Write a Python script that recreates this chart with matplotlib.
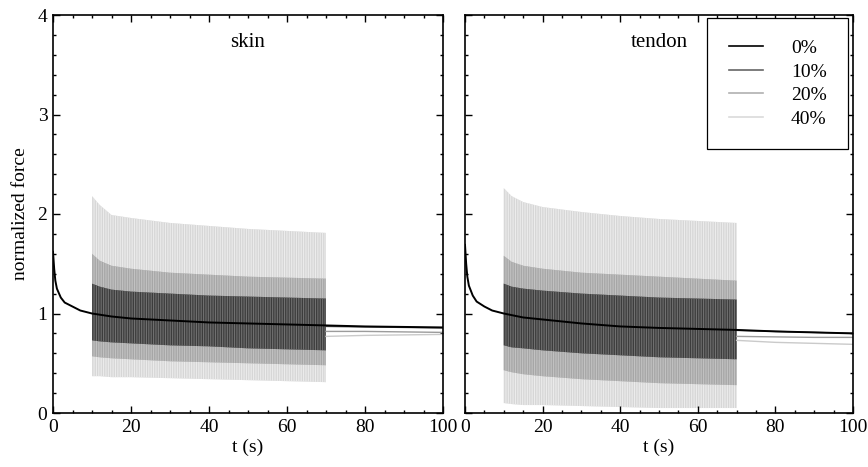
import matplotlib.pyplot as plt
from matplotlib.lines import Line2D
from matplotlib.ticker import MultipleLocator

plt.rcParams['font.family'] = ['Liberation Serif', 'DejaVu Serif']
plt.rcParams['font.size'] = 14
plt.rcParams['hatch.linewidth'] = 0.8

labels = ['0%', '10%', '20%', '40%']

# relaxation curve (0%) shared time base
t_base = [0, 0.3, 0.6, 1, 2, 3, 5, 7, 10, 15, 20, 30, 40, 50, 60, 70, 80, 90, 100]
skin_base = [1.62, 1.45, 1.33, 1.25, 1.16, 1.11, 1.07, 1.03, 1.00, 0.97, 0.95,
             0.93, 0.91, 0.90, 0.89, 0.88, 0.87, 0.865, 0.86]
tendon_base = [1.69, 1.50, 1.37, 1.28, 1.18, 1.12, 1.07, 1.03, 1.00, 0.96, 0.94,
               0.90, 0.87, 0.855, 0.845, 0.835, 0.82, 0.81, 0.80]

# oscillation envelopes, 10-70 s
t_osc = [10, 12, 15, 20, 30, 40, 50, 60, 70]
skin_hi = {
    '10%': [1.30, 1.27, 1.24, 1.22, 1.20, 1.18, 1.17, 1.16, 1.15],
    '20%': [1.60, 1.53, 1.48, 1.45, 1.41, 1.39, 1.37, 1.36, 1.35],
    '40%': [2.18, 2.09, 1.99, 1.96, 1.91, 1.88, 1.85, 1.83, 1.81],
}
skin_lo = {
    '10%': [0.73, 0.72, 0.71, 0.70, 0.68, 0.67, 0.65, 0.64, 0.63],
    '20%': [0.57, 0.56, 0.55, 0.54, 0.52, 0.51, 0.50, 0.49, 0.48],
    '40%': [0.37, 0.37, 0.36, 0.36, 0.35, 0.34, 0.33, 0.32, 0.31],
}
tendon_hi = {
    '10%': [1.30, 1.27, 1.25, 1.23, 1.20, 1.18, 1.16, 1.15, 1.14],
    '20%': [1.58, 1.52, 1.48, 1.45, 1.41, 1.39, 1.37, 1.35, 1.33],
    '40%': [2.26, 2.18, 2.12, 2.07, 2.02, 1.98, 1.95, 1.93, 1.91],
}
tendon_lo = {
    '10%': [0.68, 0.66, 0.65, 0.63, 0.60, 0.58, 0.56, 0.55, 0.54],
    '20%': [0.43, 0.41, 0.39, 0.37, 0.34, 0.32, 0.30, 0.29, 0.28],
    '40%': [0.10, 0.09, 0.08, 0.08, 0.07, 0.06, 0.05, 0.05, 0.05],
}

# recovery after the oscillation stops
t_post = [70, 80, 90, 100]
skin_post = {
    '10%': [0.87, 0.865, 0.86, 0.855],
    '20%': [0.82, 0.82, 0.815, 0.81],
    '40%': [0.77, 0.78, 0.785, 0.79],
}
tendon_post = {
    '10%': [0.83, 0.82, 0.81, 0.80],
    '20%': [0.77, 0.765, 0.76, 0.76],
    '40%': [0.73, 0.71, 0.70, 0.69],
}

band_colors = {'10%': '#3c3c3c', '20%': '#a6a6a6', '40%': '#d6d6d6'}
stripe_colors = {'10%': '#707070', '20%': '#c2c2c2', '40%': '#ececec'}
line_colors = {'10%': '#555555', '20%': '#9c9c9c', '40%': '#cacaca'}
legend_colors = ['#000000', '#666666', '#b0b0b0', '#dadada']

fig = plt.figure(figsize=(8.68, 4.67), dpi=100)
ax1 = fig.add_axes([53 / 868, 54 / 467, 390 / 868, 398 / 467])
ax2 = fig.add_axes([465 / 868, 54 / 467, 388 / 868, 398 / 467])

panels = [
    (ax1, 'skin', skin_base, skin_hi, skin_lo, skin_post),
    (ax2, 'tendon', tendon_base, tendon_hi, tendon_lo, tendon_post),
]

for ax, name, base, hi, lo, post in panels:
    for key in ['40%', '20%', '10%']:
        ax.fill_between(t_osc, lo[key], hi[key], facecolor=band_colors[key],
                        edgecolor=stripe_colors[key], hatch='|||||||', linewidth=0, zorder=1)
    for key in ['40%', '20%', '10%']:
        ax.plot(t_post, post[key], color=line_colors[key], lw=1.0, zorder=2)
    ax.plot(t_base, base, color='black', lw=1.4, zorder=3)

    ax.set_xlim(0, 100)
    ax.set_ylim(0, 4)
    ax.xaxis.set_major_locator(MultipleLocator(20))
    ax.xaxis.set_minor_locator(MultipleLocator(5))
    ax.yaxis.set_major_locator(MultipleLocator(1))
    ax.yaxis.set_minor_locator(MultipleLocator(0.2))
    ax.tick_params(which='both', direction='in', top=True, right=True, width=1.0)
    ax.tick_params(which='major', length=5, labelsize=14, pad=4)
    ax.tick_params(which='minor', length=2.5)
    for s in ax.spines.values():
        s.set_linewidth(1.2)
    ax.set_xlabel('t (s)', fontsize=14, labelpad=2)
    ax.text(50, 3.72, name, ha='center', va='center', fontsize=15)

ax1.set_ylabel('normalized force', fontsize=14, labelpad=6)
ax2.tick_params(labelleft=False)

handles = [Line2D([], [], color=c, lw=1.2) for c in legend_colors]
leg = ax2.legend(handles, labels, loc='upper right', bbox_to_anchor=(0.987, 0.992),
                 borderaxespad=0, fancybox=False, framealpha=1, edgecolor='black',
                 handlelength=1.75, handletextpad=1.45, labelspacing=0.3,
                 borderpad=1.1, fontsize=14)
leg.get_frame().set_linewidth(0.9)

fig.savefig('out.png', dpi=100)
